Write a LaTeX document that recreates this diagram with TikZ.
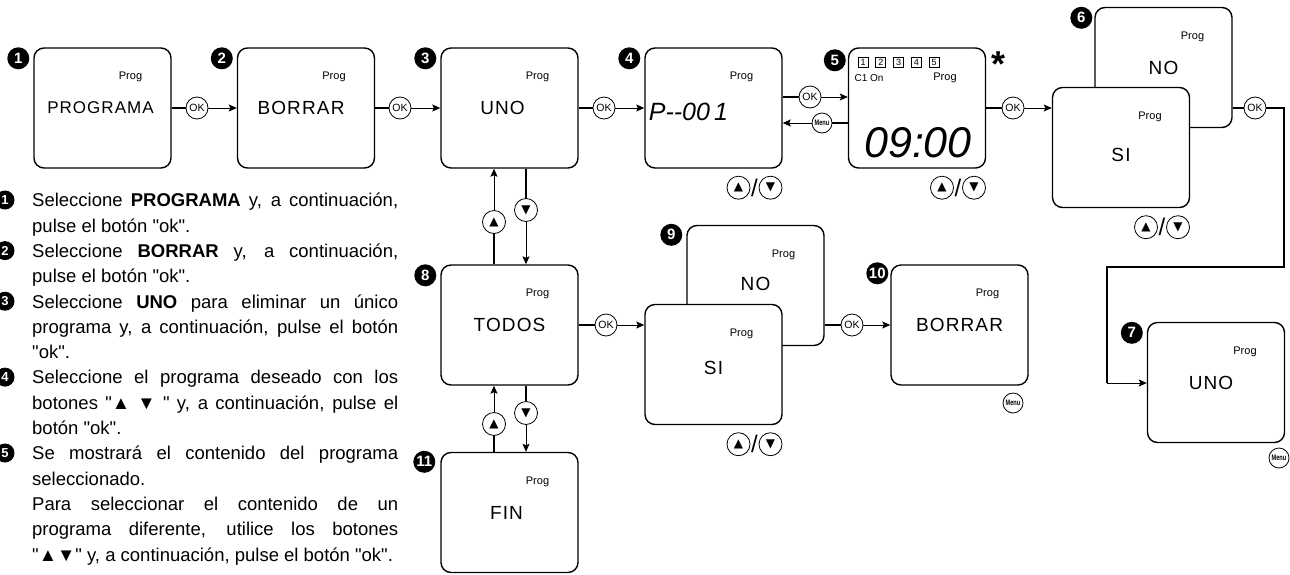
\documentclass[tikz,border=0pt]{standalone}
\usepackage{fontspec}
\setmainfont{Liberation Sans}[Ligatures=TeXOff]
\newfontfamily\lcdfont[LetterSpace=6]{Liberation Sans}
\newfontfamily\symfont{DejaVu Sans}
\usetikzlibrary{arrows.meta}

\begin{document}
\begin{tikzpicture}[x=1pt,y=-1pt]
\tikzset{screen/.style ={draw, line width=1.4pt, rounded corners=10pt, fill=white,
  minimum width=137pt, minimum height=120pt, inner sep=0pt}}
\tikzset{lcd/.style ={font=\lcdfont\fontsize{19}{19}\selectfont}}
\tikzset{prog/.style ={font=\fontsize{11}{11}\selectfont}}
\tikzset{badge/.style ={circle, fill=black, text=white, inner sep=0pt, minimum size=22pt,
  font=\bfseries\fontsize{15}{15}\selectfont}}
\tikzset{tbadge/.style ={badge, minimum size=19pt, font=\bfseries\fontsize{13}{13}\selectfont}}
\tikzset{okbtn/.style ={circle, draw, line width=0.8pt, fill=white, inner sep=0pt,
  minimum size=22pt, font=\fontsize{10.5}{10.5}\selectfont}}
\tikzset{menubtn/.style ={okbtn, minimum size=20pt, font=\bfseries\fontsize{8}{8}\selectfont}}
\tikzset{keybtn/.style ={okbtn, minimum size=23pt, font=\symfont\fontsize{12}{12}\selectfont}}
\tikzset{numsq/.style ={draw, line width=0.6pt, minimum size=10pt, inner sep=0pt,
  font=\fontsize{9}{9}\selectfont}}
\tikzset{heavy/.style ={line width=2.2pt}}
\tikzset{arr/.style ={line width=1pt, -{Stealth[length=8pt,width=7pt,inset=1.5pt]}}}
\useasboundingbox (0,0) rectangle (1290,574);

\node[screen] (s1) at (102.5,108) {};
\node[screen] (s2) at (306,108) {};
\node[screen] (s3) at (509.5,108) {};
\node[screen] (s4) at (713.5,108) {};
\node[screen] (s5) at (917,108) {};
\node[screen] (s6no) at (1163.5,67.5) {};
\node[screen] (s6si) at (1121,147.5) {};
\node[screen] (s7) at (1216,382.5) {};
\node[screen] (s8) at (509.5,325) {};
\node[screen] (s9no) at (755.5,285.5) {};
\node[screen] (s9si) at (713.5,364.5) {};
\node[screen] (s10) at (959.5,325) {};
\node[screen] (s11) at (509.5,512.5) {};

\node[lcd] (t1) at ([xshift=-2pt]s1.center) {\fontsize{17}{17}\selectfont PROGRAMA};
\node[lcd] (t2) at ([xshift=-5pt]s2.center) {BORRAR};
\node[lcd] (t3) at ([xshift=-7pt]s3.center) {UNO};
\node[font=\itshape\fontsize{25}{25}\selectfont] (t4) at ([xshift=-25pt,yshift=-4pt]s4.center) {P--00\,1};
\node[font=\itshape\fontsize{43}{43}\selectfont] (t5) at ([xshift=1pt,yshift=-35pt]s5.center) {09:00};
\node[lcd] (t6no) at (s6no.center) {NO};
\node[lcd] (t6si) at ([yshift=-7pt]s6si.center) {SI};
\node[lcd] (t7) at ([xshift=-5pt]s7.center) {UNO};
\node[lcd] (t8) at (s8.center) {TODOS};
\node[lcd] (t9no) at ([yshift=2pt]s9no.center) {NO};
\node[lcd] (t9si) at ([yshift=-3pt]s9si.center) {SI};
\node[lcd] (t10) at (s10.center) {BORRAR};
\node[lcd] (t11) at ([xshift=-3pt]s11.center) {FIN};

\node[prog] (p1) at ([xshift=28pt,yshift=31pt]s1.center) {Prog};
\node[prog] (p2) at ([xshift=28pt,yshift=31pt]s2.center) {Prog};
\node[prog] (p3) at ([xshift=28pt,yshift=31pt]s3.center) {Prog};
\node[prog] (p4) at ([xshift=28pt,yshift=31pt]s4.center) {Prog};
\node[prog] (p5) at ([xshift=28pt,yshift=30pt]s5.center) {Prog};
\node[prog] (p6no) at ([xshift=29pt,yshift=31pt]s6no.center) {Prog};
\node[prog] (p6si) at ([xshift=29pt,yshift=31pt]s6si.center) {Prog};
\node[prog] (p7) at ([xshift=29pt,yshift=31pt]s7.center) {Prog};
\node[prog] (p8) at ([xshift=28pt,yshift=31pt]s8.center) {Prog};
\node[prog] (p9no) at ([xshift=28pt,yshift=31pt]s9no.center) {Prog};
\node[prog] (p9si) at ([xshift=28pt,yshift=31pt]s9si.center) {Prog};
\node[prog] (p10) at ([xshift=28pt,yshift=31pt]s10.center) {Prog};
\node[prog] (p11) at ([xshift=28pt,yshift=31pt]s11.center) {Prog};

\node[numsq] (q1) at (863,62) {1};
\node[numsq] (q2) at (880.75,62) {2};
\node[numsq] (q3) at (898.5,62) {3};
\node[numsq] (q4) at (916.25,62) {4};
\node[numsq] (q5) at (934,62) {5};
\node[font=\fontsize{10}{10}\selectfont] (ch5) at (869,78) {C1 On};
\node[anchor=base, font=\bfseries\fontsize{36}{36}\selectfont] (star) at (998,76) {*};

\node[badge] (n1) at ([xshift=-15pt,yshift=-11pt]s1.north west) {1};
\node[badge] (n2) at ([xshift=-15pt,yshift=-11pt]s2.north west) {2};
\node[badge] (n3) at ([xshift=-15pt,yshift=-11pt]s3.north west) {3};
\node[badge] (n4) at ([xshift=-15pt,yshift=-11pt]s4.north west) {4};
\node[badge] (n5) at ([xshift=-13pt,yshift=-13pt]s5.north west) {5};
\node[badge] (n6) at ([xshift=-13pt,yshift=-11pt]s6no.north west) {6};
\node[badge] (n7) at ([xshift=-15pt,yshift=-11pt]s7.north west) {7};
\node[badge] (n8) at ([xshift=-15pt,yshift=-11pt]s8.north west) {8};
\node[badge] (n9) at ([xshift=-15pt,yshift=-10pt]s9no.north west) {9};
\node[badge] (n10) at ([xshift=-13pt,yshift=-9pt]s10.north west) {10};
\node[badge] (n11) at ([xshift=-16pt,yshift=-10pt]s11.north west) {11};

\node[okbtn] (ok1) at (197,108) {OK};
\node[okbtn] (ok2) at (400,108) {OK};
\node[okbtn] (ok3) at (604,108) {OK};
\node[okbtn] (ok4) at (810,97) {OK};
\node[menubtn] (mn4) at (822,123) {\scalebox{0.7}[1]{Menu}};
\node[okbtn] (ok5) at (1013,108) {OK};
\node[okbtn] (ok6) at (1255,108) {OK};
\node[okbtn] (ok8) at (606,325) {OK};
\node[okbtn] (ok9) at (852,325) {OK};
\node[menubtn] (mn10) at (1013,403) {\scalebox{0.7}[1]{Menu}};
\node[menubtn] (mn7) at (1279,458) {\scalebox{0.7}[1]{Menu}};

\node[keybtn] (up3) at (494,222) {▲};
\node[keybtn] (dn3) at (526,210) {▼};
\node[keybtn] (up8) at (494,424) {▲};
\node[keybtn] (dn8) at (526,413) {▼};
\node[keybtn] (u4) at ([xshift=25pt,yshift=-19pt]s4.south) {▲};
\node[keybtn] (d4) at ([xshift=57pt,yshift=-19pt]s4.south) {▼};
\node[font=\fontsize{24}{24}\selectfont] (sl4) at ([xshift=41pt,yshift=-19pt]s4.south) {/};
\node[keybtn] (u5) at ([xshift=25pt,yshift=-19pt]s5.south) {▲};
\node[keybtn] (d5) at ([xshift=57pt,yshift=-19pt]s5.south) {▼};
\node[font=\fontsize{24}{24}\selectfont] (sl5) at ([xshift=41pt,yshift=-19pt]s5.south) {/};
\node[keybtn] (u6) at ([xshift=25pt,yshift=-19pt]s6si.south) {▲};
\node[keybtn] (d6) at ([xshift=57pt,yshift=-19pt]s6si.south) {▼};
\node[font=\fontsize{24}{24}\selectfont] (sl6) at ([xshift=41pt,yshift=-19pt]s6si.south) {/};
\node[keybtn] (u9) at ([xshift=25pt,yshift=-19pt]s9si.south) {▲};
\node[keybtn] (d9) at ([xshift=57pt,yshift=-19pt]s9si.south) {▼};
\node[font=\fontsize{24}{24}\selectfont] (sl9) at ([xshift=41pt,yshift=-19pt]s9si.south) {/};

\coordinate (c1) at (1284,267);
\coordinate (c2) at (1107,383);

\draw[heavy] (s1) -- (ok1);
\draw[arr] (ok1) -- (s2);
\draw[heavy] (s2) -- (ok2);
\draw[arr] (ok2) -- (s3);
\draw[heavy] (s3) -- (ok3);
\draw[arr] (ok3) -- (s4);
\draw[heavy] (ok4 -| s4.east) -- (ok4);
\draw[arr] (ok4) -- (ok4 -| s5.west);
\draw[heavy] (mn4 -| s5.west) -- (mn4);
\draw[arr] (mn4) -- (mn4 -| s4.east);
\draw[heavy] (s5) -- (ok5);
\draw[arr] (ok5) -- (ok5 -| s6si.west);
\draw[heavy] (ok6 -| s6no.east) -- (ok6);
\draw[heavy] (ok6.east) -| (c1) -| (c2);
\draw[arr] (c2) -- (c2 -| s7.west);
\draw[heavy] (up3 |- s8.north) -- (up3);
\draw[arr] (up3) -- (up3 |- s3.south);
\draw[heavy] (dn3 |- s3.south) -- (dn3);
\draw[arr] (dn3) -- (dn3 |- s8.north);
\draw[heavy] (up8 |- s11.north) -- (up8);
\draw[arr] (up8) -- (up8 |- s8.south);
\draw[heavy] (dn8 |- s8.south) -- (dn8);
\draw[arr] (dn8) -- (dn8 |- s11.north);
\draw[heavy] (s8) -- (ok8);
\draw[arr] (ok8) -- (ok8 -| s9si.west);
\draw[heavy] (ok9 -| s9no.east) -- (ok9);
\draw[arr] (ok9) -- (s10);

\node[anchor=north west, inner sep=0pt, text width=366pt, align=justify,
  font=\fontsize{18.5}{25.3}\selectfont] (txt) at (32,188.6) {\rule{0pt}{18pt}Seleccione
  \textbf{PROGRAMA} y, a continuación,\linebreak pulse el botón "ok".\par
  Seleccione \textbf{BORRAR} y, a continuación,\linebreak pulse el botón "ok".\par
  Seleccione \textbf{UNO} para eliminar un único\linebreak programa y, a continuación, pulse el botón\linebreak "ok".\par
  Seleccione el programa deseado con los\linebreak botones "▲ ▼ " y, a continuación, pulse el\linebreak botón "ok".\par
  Se mostrará el contenido del programa\linebreak seleccionado.\par
  Para seleccionar el contenido de un\linebreak programa diferente, utilice los botones\linebreak "▲▼" y, a continuación, pulse el botón "ok".};
\node[tbadge] (d1) at (5,200) {1};
\node[tbadge] (d2) at (5,250.6) {2};
\node[tbadge] (d3) at (5,301.2) {3};
\node[tbadge] (d4) at (5,377.1) {4};
\node[tbadge] (d5) at (5,453) {5};
\end{tikzpicture}
\end{document}
